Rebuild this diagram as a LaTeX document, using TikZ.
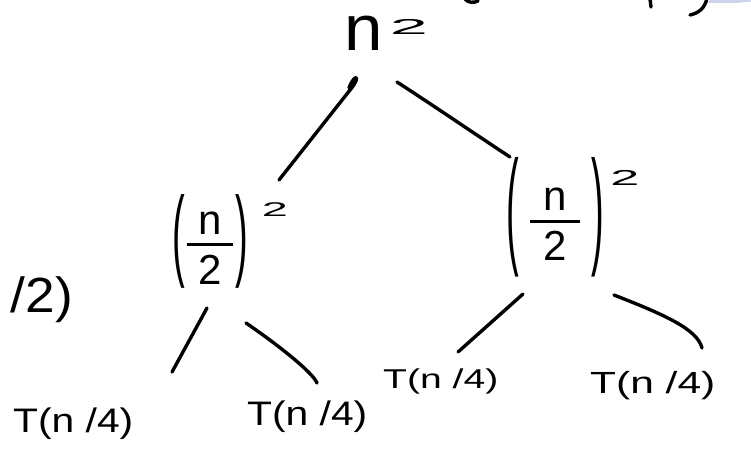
\documentclass[tikz,border=0pt]{standalone}
\usepackage{fontspec}
\usepackage{amsmath}
\usepackage{graphicx}
\setmainfont{Liberation Sans}
\usetikzlibrary{calc}
% a round bracket stretched to #1 times its height and lowered by #2
\newcommand{\tallpar}[3]{\raisebox{-#2}{\fontsize{38}{38}\selectfont\scalebox{1}[#1]{#3}}}
% n over 2 with a thick bar of width #1
\newcommand{\halfn}[1]{$\genfrac{}{}{3pt}{0}{\makebox[#1]{n}}{\text{2}}$}
\begin{document}
\begin{tikzpicture}[x=1pt,y=-1pt,
  ink/.style={line width=3.4pt, line cap=round, line join=round, black},
  leaf/.style={font=\fontsize{34}{34}\selectfont, inner sep=0pt, anchor=base west},
  sq/.style={font=\fontsize{42}{44}\selectfont, inner sep=0pt, anchor=west},
  sup/.style={font=\fontsize{36}{36}\selectfont, inner sep=0pt},
  rootlbl/.style={font=\fontsize{64}{64}\selectfont, inner sep=0pt, anchor=base west}]
\useasboundingbox (0,0) rectangle (751,454);
\clip (0,0) rectangle (751,454);

% ---- text of the tree ----
\node[rootlbl] (root) at (344,51) {\scalebox{1.08}[1]{n}};
\node[sup] (rootsq) at ($(root.base west)+(65,-24)$) {\scalebox{1.9}[0.6]{2}};
\node[sq] (L) at (172,241) {\tallpar{2.65}{16pt}{(}\hspace{1pt}\halfn{46pt}\hspace{1pt}\tallpar{2.65}{16pt}{)}};
\node[sup] (Lsq) at ($(L.west)+(103,-31)$) {\scalebox{1.3}[0.55]{2}};
\node[sq] (R) at (506,217) {\tallpar{3.38}{23pt}{(}\hspace{10pt}\halfn{50pt}\hspace{10pt}\tallpar{3.38}{23pt}{)}};
\node[sup] (Rsq) at ($(R.west)+(119,-39)$) {\scalebox{1.45}[0.6]{2}};
\node[leaf] (LL) at (13,432)  {\scalebox{1.2}[1]{T(n /4)}};
\node[leaf] (LR) at (247,425) {\scalebox{1.2}[1]{T(n /4)}};
\node[leaf] (RL) at (383,388) {\scalebox{1.15}[0.8]{T(n /4)}};
\node[leaf] (RR) at (590,393) {\scalebox{1.25}[0.9]{T(n /4)}};
% term of a neighbouring line, running off the left edge
\node[font=\fontsize{38}{38}\selectfont, inner sep=0pt, anchor=base east] (side) at (73,312) {\scalebox{1.4}[1.3]{T(n\kern6pt/2)}};

% ---- branches ----
\draw[ink] ($(L.west)+(107,-61)$) -- ($(root.base west)+(6,39)$)
  .. controls ($(root.base west)+(18,25)$) and ($(root.base west)+(11,21)$) .. ($(root.base west)+(5,37)$);
\draw[ink] ($(root.base west)+(53,31)$) .. controls ($(root.base west)+(90,55)$) and ($(root.base west)+(128,81)$) .. ($(R.west)+(4,-60)$);
\draw[ink] ($(L.west)+(35,67)$) -- ($(LL.base west)+(159,-60)$);
\draw[ink] ($(L.west)+(74,82)$) .. controls ($(L.west)+(109,106)$) and ($(LR.base west)+(66,-52)$) .. ($(LR.base west)+(70,-42)$);
\draw[ink] ($(R.west)+(17,77)$) -- ($(RL.base west)+(75,-36)$);
\draw[ink] ($(R.west)+(108,78)$) .. controls ($(R.west)+(159,98)$) and ($(RR.base west)+(107,-64)$) .. ($(RR.base west)+(112,-45)$);

% ---- strokes cut by the top edge ----
\draw[ink] (465,-1) .. controls (468,3) and (474,3) .. (478,1);
\draw[ink] (650,-1) -- (651,7);
\draw[ink] (707,-2) .. controls (705,8) and (699,13) .. (690,15);
\fill[color={rgb,255:red,205;green,212;blue,236}] (709,0) -- (751,0) -- (751,1.5) -- (737,3) -- (708,3) -- cycle;
\end{tikzpicture}
\end{document}
